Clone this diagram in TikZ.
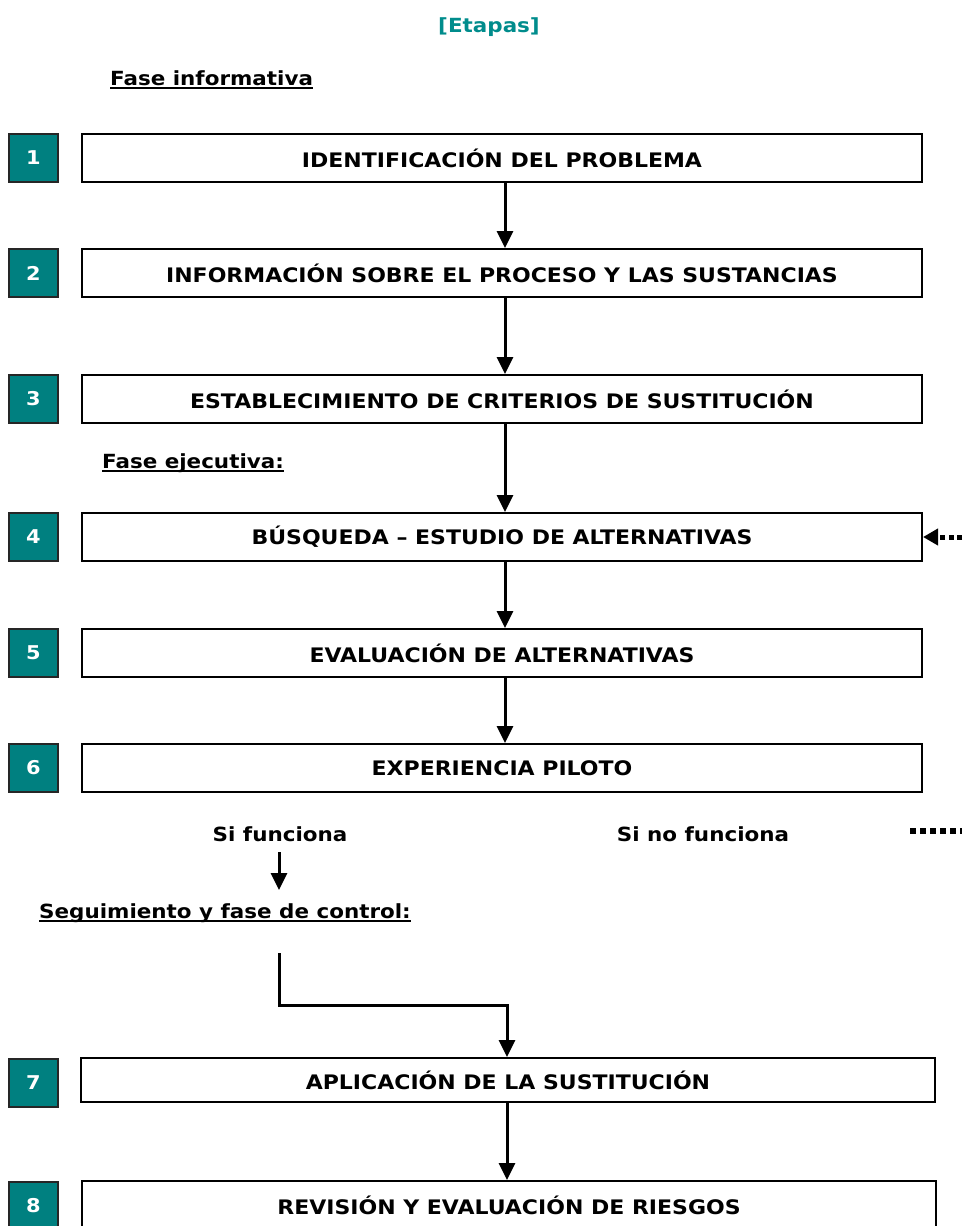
\documentclass[tikz,border=0pt]{standalone}
\usepackage{fontspec}
\setmainfont{DejaVu Sans}[FakeStretch=1.1]
\usetikzlibrary{arrows.meta}
\definecolor{tealbox}{RGB}{0,128,128}
\definecolor{tealtitle}{RGB}{0,140,140}
\newcommand\undl[1]{\setbox0\hbox{#1}\rlap{\rule[-4pt]{\wd0}{2.2pt}}\box0}
\tikzset{
  stepbox/.style={draw, line width=2pt, fill=white, inner sep=0pt,
    minimum width=840pt, minimum height=48pt,
    font=\fontsize{20}{24}\selectfont\bfseries},
  numbox/.style={draw=black!85, line width=2pt, fill=tealbox, text=white,
    minimum width=49pt, minimum height=48pt, inner sep=0pt,
    font=\fontsize{19}{22}\selectfont\bfseries},
  lbl/.style={inner sep=0pt, font=\fontsize{19.5}{24}\selectfont\bfseries},
  arr/.style={-{Triangle[length=17pt,width=16pt]}, line width=3pt},
  dotln/.style={line width=5.5pt, dash pattern=on 5.5pt off 4.5pt},
  dotarr/.style={-{Triangle[length=15pt,width=16pt]}, line width=5pt, dash pattern=on 5pt off 3.5pt},
}
\begin{document}
\begin{tikzpicture}[x=1pt,y=-1pt]
\useasboundingbox (0,0) rectangle (962,1226);

\node[lbl, anchor=base, text=tealtitle] (title) at (489,32) {[Etapas]};
\node[lbl, anchor=base west] (finf) at (110,85) {\undl{Fase informativa}};

\node[numbox] (n1) at (33.5,158) {1};
\node[stepbox] (b1) at (502,158) {IDENTIFICACIÓN DEL PROBLEMA};
\node[numbox] (n2) at (33.5,273) {2};
\node[stepbox] (b2) at (502,273) {INFORMACIÓN SOBRE EL PROCESO Y LAS SUSTANCIAS};
\node[numbox] (n3) at (33.5,399) {3};
\node[stepbox] (b3) at (502,399) {ESTABLECIMIENTO DE CRITERIOS DE SUSTITUCIÓN};

\node[lbl, anchor=base west] (fejec) at (102,468) {\undl{Fase ejecutiva:}};

\node[numbox] (n4) at (33.5,537) {4};
\node[stepbox] (b4) at (502,537) {BÚSQUEDA – ESTUDIO DE ALTERNATIVAS};
\node[numbox] (n5) at (33.5,653) {5};
\node[stepbox] (b5) at (502,653) {EVALUACIÓN DE ALTERNATIVAS};
\node[numbox] (n6) at (33.5,768) {6};
\node[stepbox] (b6) at (502,768) {EXPERIENCIA PILOTO};

\node[lbl, anchor=base] (sif) at (280,841) {Si funciona};
\node[lbl, anchor=base] (sinf) at (703,841) {Si no funciona};

\node[lbl, anchor=base west] (seg) at (39,918) {\undl{Seguimiento y fase de control:}};

\node[numbox] (n7) at (33.5,1083) {7};
\node[stepbox, minimum width=854pt, minimum height=44pt] (b7) at (508,1080) {APLICACIÓN DE LA SUSTITUCIÓN};
\node[numbox] (n8) at (33.5,1206) {8};
\node[stepbox, minimum width=854pt] (b8) at (509,1205) {REVISIÓN Y EVALUACIÓN DE RIESGOS};

% vertical connectors
\draw[arr] ([xshift=3pt]b1.south) -- ([xshift=3pt]b2.north);
\draw[arr] ([xshift=3pt]b2.south) -- ([xshift=3pt]b3.north);
\draw[arr] ([xshift=3pt]b3.south) -- ([xshift=3pt]b4.north);
\draw[arr] ([xshift=3pt]b4.south) -- ([xshift=3pt]b5.north);
\draw[arr] ([xshift=3pt]b5.south) -- ([xshift=3pt]b6.north);
\draw[arr] ([xshift=-1pt]b7.south) -- ([xshift=-2pt]b8.north);

% feedback dotted arrow into box 4
\coordinate (r4) at (962,537);
\draw[dotarr] (r4) -- (b4.east);

% dotted line after "Si no funciona"
\coordinate (d1) at (910,831);
\coordinate (d2) at (962,831);
\draw[dotln] (d1) -- (d2);

% "Si funciona" arrow
\coordinate (sf1) at (279,852);
\coordinate (sf2) at (279,890);
\draw[arr] (sf1) -- (sf2);

% L-shaped connector to box 7
\coordinate (l1) at (279,953);
\coordinate (l2) at (279,1005);
\draw[arr] (l1) -- (l2) -| ([xshift=-1pt]b7.north);
\end{tikzpicture}
\end{document}
